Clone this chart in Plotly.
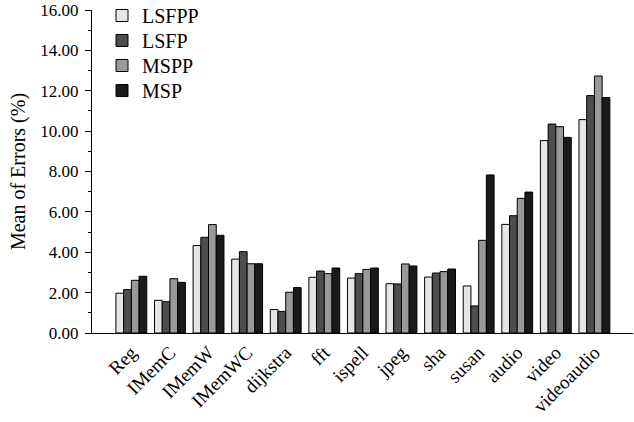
import plotly.graph_objects as go

categories = ["Reg", "IMemC", "IMemW", "IMemWC", "dijkstra", "fft", "ispell",
              "jpeg", "sha", "susan", "audio", "video", "videoaudio"]
lsfpp = [1.97, 1.62, 4.33, 3.66, 1.16, 2.76, 2.72, 2.44, 2.77, 2.33, 5.38, 9.53, 10.57]
lsfp  = [2.15, 1.55, 4.74, 4.03, 1.07, 3.07, 2.94, 2.43, 2.97, 1.34, 5.81, 10.35, 11.76]
mspp  = [2.61, 2.69, 5.37, 3.43, 2.02, 2.94, 3.15, 3.42, 3.04, 4.59, 6.67, 10.22, 12.73]
msp   = [2.81, 2.51, 4.84, 3.43, 2.25, 3.22, 3.22, 3.32, 3.17, 7.83, 6.98, 9.69, 11.66]
series_names = ["LSFPP", "LSFP", "MSPP", "MSP"]
series_values = [lsfpp, lsfp, mspp, msp]
colors = ["#e6e6e6", "#4d4d4d", "#999999", "#1a1a1a"]
y_ticks = [0, 2, 4, 6, 8, 10, 12, 14, 16]

font_family = "Liberation Serif"
legend_ids = ["legend", "legend2", "legend3", "legend4"]
legend_y = [1.0433, 0.966, 0.8885, 0.811]

fig = go.Figure()
for name, vals, c, lid in zip(series_names, series_values, colors, legend_ids):
    fig.add_trace(go.Bar(x=categories, y=vals, name=name, legend=lid,
                         marker=dict(color=c, line=dict(color="black", width=1))))

legend_layout = {}
for lid, ly in zip(legend_ids, legend_y):
    legend_layout[lid] = dict(x=0.0185, y=ly, xanchor="left", yanchor="top",
                              font=dict(family=font_family, size=20, color="black"),
                              bgcolor="rgba(0,0,0,0)")

fig.update_layout(
    width=634, height=422,
    margin=dict(l=92, r=1, t=10, b=89, autoexpand=False),
    plot_bgcolor="white", paper_bgcolor="white",
    barmode="group", bargap=0.2, bargroupgap=0,
    font=dict(family=font_family, size=17, color="black"),
    showlegend=True,
    xaxis=dict(range=[-1.02, 13.0], showline=True, linecolor="black", linewidth=1,
               ticks="", tickangle=-45, showgrid=False, zeroline=False, automargin=False,
               tickfont=dict(family=font_family, size=19)),
    yaxis=dict(range=[0, 16], tickvals=y_ticks, tickformat=".2f", automargin=False,
               showline=True, linecolor="black", linewidth=1,
               ticks="outside", ticklen=6, tickcolor="black", showgrid=False,
               zeroline=False, ticklabelstandoff=3,
               minor=dict(dtick=1, ticks="outside", ticklen=3, tickcolor="black", showgrid=False),
               title=dict(text="Mean of Errors (%)", standoff=9,
                          font=dict(family=font_family, size=20))),
    **legend_layout,
)
fig.write_html("out.html", config={"displayModeBar": False},
               post_script="document.body.style.margin='0';")
